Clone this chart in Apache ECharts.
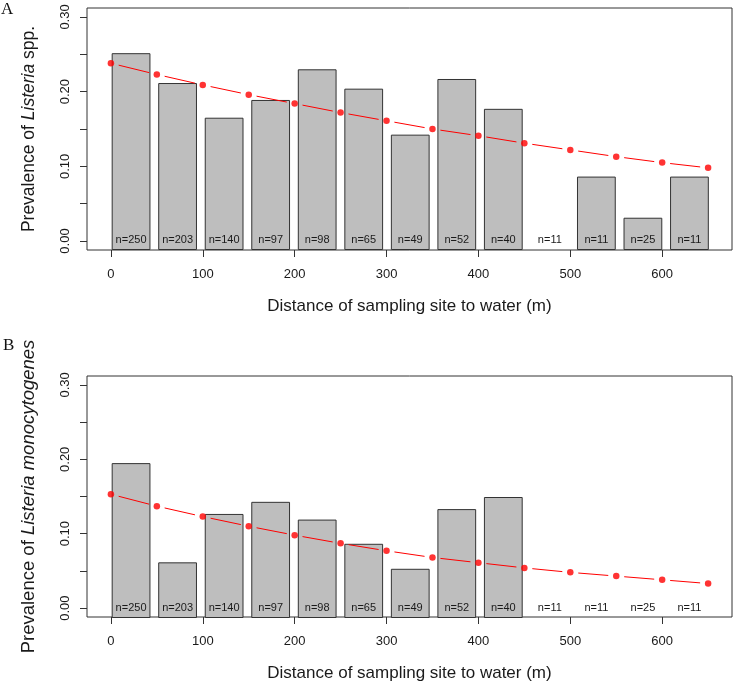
<!DOCTYPE html>
<html>
<head>
<meta charset="utf-8">
<script src="https://cdn.jsdelivr.net/npm/echarts@6/dist/echarts.min.js"></script>
<style>
html,body{margin:0;padding:0;background:#fff;}
#c{width:733px;height:683px;}
</style>
</head>
<body>
<div id="c"></div>
<script>
// ---- data ----
const distances = [0, 50, 100, 150, 200, 250, 300, 350, 400, 450, 500, 550, 600, 650];
const sampleCounts = [250, 203, 140, 97, 98, 65, 49, 52, 40, 11, 11, 25, 11];
const prevalenceA = [0.244, 0.207, 0.164, 0.186, 0.224, 0.200, 0.143, 0.212, 0.175, 0, 0.091, 0.040, 0.091];
const prevalenceB = [0.192, 0.069, 0.129, 0.144, 0.122, 0.092, 0.061, 0.135, 0.150, 0, 0, 0, 0];
const fittedA = [0.238, 0.223, 0.209, 0.196, 0.184, 0.172, 0.161, 0.150, 0.141, 0.131, 0.122, 0.113, 0.105, 0.098];
const fittedB = [0.153, 0.137, 0.123, 0.110, 0.098, 0.087, 0.077, 0.068, 0.061, 0.054, 0.048, 0.043, 0.038, 0.033];
const yTickValues = [0, 0.05, 0.10, 0.15, 0.20, 0.25, 0.30];
const yLabelValues = [0, 0.10, 0.20, 0.30];
const xTickValues = [0, 100, 200, 300, 400, 500, 600];
const xTitle = 'Distance of sampling site to water (m)';

// ---- build ----
const nLabels = sampleCounts.map(n => 'n=' + n);
const FONT = '"Liberation Sans", Arial, sans-serif';
const TXT = '#1a1a1a';
const GAP = 8; // px gap around points (type "b")

function segs(fit) {
  return distances.slice(0, -1).map((d, i) => [d, fit[i], distances[i + 1], fit[i + 1]]);
}

function renderSeg(params, api) {
  const p0 = api.coord([api.value(0), api.value(1)]);
  const p1 = api.coord([api.value(2), api.value(3)]);
  const dx = p1[0] - p0[0], dy = p1[1] - p0[1];
  const len = Math.sqrt(dx * dx + dy * dy);
  const ux = dx / len, uy = dy / len;
  return {
    type: 'line',
    shape: {
      x1: p0[0] + ux * GAP, y1: p0[1] + uy * GAP,
      x2: p1[0] - ux * GAP, y2: p1[1] - uy * GAP
    },
    style: { stroke: '#FF0000', lineWidth: 1 }
  };
}

const gridTops = [8, 376];
const grids = [];
const xAxes = [];
const yAxes = [];
const series = [];
const yNames = [
  '{n|Prevalence of }{i|Listeria}{n| spp.}',
  '{n|Prevalence of }{i|Listeria monocytogenes}'
];
const yNameSizes = [17.5, 18.5];
[prevalenceA, prevalenceB].forEach((prev, k) => {
  const fit = k === 0 ? fittedA : fittedB;
  const top = gridTops[k];
  const fs = yNameSizes[k];
  const gMain = grids.length;
  grids.push({ left: 87, right: 1, top: top, height: 242, show: true, borderColor: '#333', borderWidth: 1, backgroundColor: 'transparent' });
  const gBar = grids.length;
  grids.push({ left: 107.8, right: 20.3, top: top, height: 242, show: false });

  // main axes
  xAxes.push({
    gridIndex: gMain, type: 'value', min: -26, max: 676, position: 'bottom',
    axisLine: { show: false, onZero: false },
    axisTick: { show: true, customValues: xTickValues, length: 7, lineStyle: { color: '#333' } },
    axisLabel: { customValues: xTickValues, margin: 18, fontSize: 13, color: TXT, fontFamily: FONT },
    splitLine: { show: false },
    name: xTitle, nameLocation: 'middle', nameGap: 48,
    nameTextStyle: { fontSize: 17, color: TXT, fontFamily: FONT }
  });
  yAxes.push({
    gridIndex: gMain, type: 'value', min: -0.012, max: 0.312, position: 'left',
    axisLine: { show: false, onZero: false },
    axisTick: { show: true, customValues: yTickValues, length: 7, lineStyle: { color: '#333' } },
    axisLabel: { customValues: yLabelValues, rotate: 90, margin: 15, fontSize: 13, color: TXT, fontFamily: FONT,
      formatter: v => Number(v).toFixed(2) },
    splitLine: { show: false },
    name: yNames[k], nameLocation: 'middle', nameGap: 49,
    nameTextStyle: { fontSize: fs, color: TXT, fontFamily: FONT,
      rich: { n: { fontSize: fs, color: TXT, fontFamily: FONT }, i: { fontSize: fs, color: TXT, fontFamily: FONT, fontStyle: 'italic' } } }
  });
  const xMain = xAxes.length - 1, yMain = yAxes.length - 1;

  // bar axes
  xAxes.push({
    gridIndex: gBar, type: 'category', data: nLabels, z: 10, position: 'bottom',
    axisLine: { show: false, onZero: false }, axisTick: { show: false },
    axisLabel: { inside: true, interval: 0, margin: 5, fontSize: 11, color: TXT, fontFamily: FONT },
    splitLine: { show: false }
  });
  yAxes.push({
    gridIndex: gBar, type: 'value', min: 0, max: 0.3, show: false
  });
  const xBar = xAxes.length - 1, yBar = yAxes.length - 1;

  series.push({
    type: 'bar', xAxisIndex: xBar, yAxisIndex: yBar,
    data: prev.map(v => v === 0 ? { value: v, itemStyle: { borderWidth: 0 } } : v),
    barCategoryGap: '16.7%', silent: true,
    itemStyle: { color: '#BEBEBE', borderColor: '#333', borderWidth: 1 }
  });
  series.push({
    type: 'custom', xAxisIndex: xMain, yAxisIndex: yMain, data: segs(fit),
    encode: { x: [0, 2], y: [1, 3] }, renderItem: renderSeg, silent: true, z: 5
  });
  series.push({
    type: 'scatter', xAxisIndex: xMain, yAxisIndex: yMain,
    data: distances.map((d, i) => [d, fit[i]]),
    symbol: 'circle', symbolSize: 6.5, itemStyle: { color: '#FF0000' }, silent: true, z: 6
  });
});

const chart = echarts.init(document.getElementById('c'), null, { renderer: 'canvas' });
chart.setOption({
  animation: false,
  backgroundColor: '#fff',
  textStyle: { fontFamily: FONT },
  grid: grids,
  xAxis: xAxes,
  yAxis: yAxes,
  series: series,
  graphic: [
    { type: 'text', left: 1, top: 1, style: { text: 'A', fontSize: 17, fontFamily: '"Liberation Serif", "Times New Roman", serif', fill: '#111' } },
    { type: 'text', left: 3, top: 337, style: { text: 'B', fontSize: 17, fontFamily: '"Liberation Serif", "Times New Roman", serif', fill: '#111' } }
  ]
});
</script>
</body>
</html>
